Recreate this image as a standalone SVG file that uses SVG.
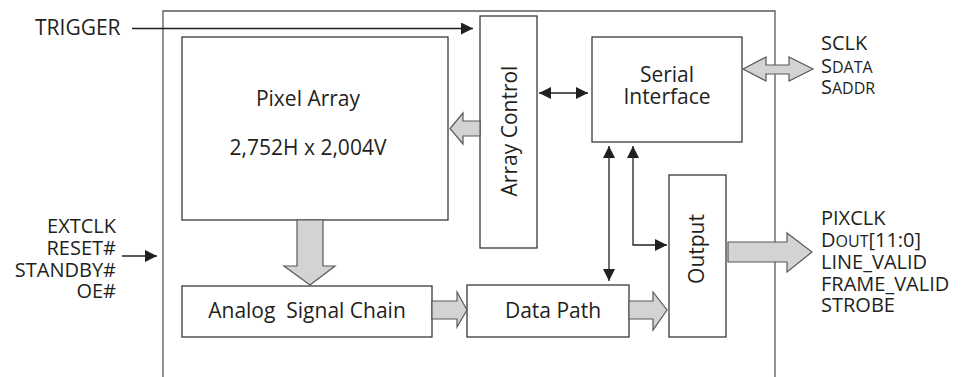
<svg xmlns="http://www.w3.org/2000/svg" width="963" height="377" viewBox="0 0 963 377">
<style>
text{font-family:"Open Sans","Liberation Sans",sans-serif;font-size:21px;fill:#231f20}
.lbl{font-size:20px}
.box{fill:#fff;stroke:#3a3a3a;stroke-width:1.3}
.frame{fill:none;stroke:#58595b;stroke-width:1.3}
.fat{fill:#d1d3d4;stroke:#58595b;stroke-width:1.2;stroke-linejoin:miter}
.wire{fill:none;stroke:#231f20;stroke-width:1.3}
.sc{font-size:16px}
</style>
<defs>
<marker id="ah" markerUnits="userSpaceOnUse" markerWidth="12" markerHeight="12" refX="11" refY="5.5" orient="auto-start-reverse" viewBox="0 0 11 11">
<path d="M0,0 L11,5.5 L0,11 z" fill="#231f20"/>
</marker>
</defs>
<rect width="963" height="377" fill="#fff"/>
<path class="frame" d="M163,377 V11 H775 V377"/>
<g id="pixel-array">
<rect class="box" x="182" y="37" width="266" height="183"/>
<text x="308" y="106" text-anchor="middle">Pixel Array</text>
<text x="308" y="155" text-anchor="middle">2,752H x 2,004V</text>
</g>
<g id="array-control">
<rect class="box" x="480" y="16" width="57" height="232"/>
<text transform="translate(517,131) rotate(-90)" text-anchor="middle">Array Control</text>
</g>
<g id="serial-interface">
<rect class="box" x="592" y="37" width="150" height="105"/>
<text x="667" y="82" text-anchor="middle">Serial</text>
<text x="667" y="104" text-anchor="middle">Interface</text>
</g>
<g id="output">
<rect class="box" x="669" y="175" width="57" height="162"/>
<text transform="translate(704,249) rotate(-90)" text-anchor="middle">Output</text>
</g>
<g id="analog-signal-chain">
<rect class="box" x="182" y="286" width="250" height="51"/>
<text x="307" y="318" text-anchor="middle" xml:space="preserve">Analog  Signal Chain</text>
</g>
<g id="data-path">
<rect class="box" x="467" y="285" width="162" height="52"/>
<text x="553" y="318" text-anchor="middle">Data Path</text>
</g>
<g id="labels">
<text x="35" y="35">TRIGGER</text>
<text class="lbl" x="116" y="233" text-anchor="end">EXTCLK</text>
<text class="lbl" x="116" y="255" text-anchor="end">RESET#</text>
<text class="lbl" x="116" y="277" text-anchor="end">STANDBY#</text>
<text class="lbl" x="116" y="298" text-anchor="end">OE#</text>
<text class="lbl" x="821" y="50">SCLK</text>
<text class="lbl" x="821" y="73">S<tspan class="sc">DATA</tspan></text>
<text class="lbl" x="821" y="94">S<tspan class="sc">ADDR</tspan></text>
<text class="lbl" x="821" y="225">PIXCLK</text>
<text class="lbl" x="821" y="247">D<tspan class="sc">OUT</tspan>[11:0]</text>
<text class="lbl" x="821" y="269">LINE_VALID</text>
<text class="lbl" x="821" y="291">FRAME_VALID</text>
<text class="lbl" x="821" y="312">STROBE</text>
</g>
<g id="connectors">
<line class="wire" x1="132" y1="28.5" x2="473" y2="28.5" marker-end="url(#ah)"/>
<line class="wire" x1="122" y1="256" x2="157" y2="256" marker-end="url(#ah)"/>
<line class="wire" x1="539" y1="93" x2="588" y2="93" marker-start="url(#ah)" marker-end="url(#ah)"/>
<line class="wire" x1="609" y1="146" x2="609" y2="281" marker-start="url(#ah)" marker-end="url(#ah)"/>
<polyline class="wire" points="633,146 633,245 667,245" marker-start="url(#ah)" marker-end="url(#ah)"/>
<polygon class="fat" points="480,121 463,121 463,113 450,128.5 463,144 463,136 480,136"/>
<polygon class="fat" points="743,69 766,57 766,65 789,65 789,57 813,69 789,81 789,74 766,74 766,81"/>
<polygon class="fat" points="728,242 787,242 787,233 812,252 787,272 787,262 728,262"/>
<polygon class="fat" points="297,220 323,220 323,266 335,266 310,285 284,266 297,266"/>
<polygon class="fat" points="432,301 457,301 457,292 467,310 457,327 457,319 432,319"/>
<polygon class="fat" points="629,301 653,301 653,292 667,310 653,330 653,319 629,319"/>
</g>
</svg>
